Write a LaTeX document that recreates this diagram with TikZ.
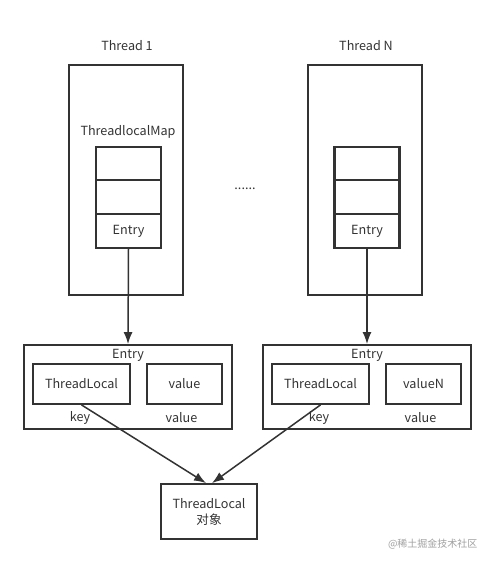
\documentclass[tikz,border=0pt]{standalone}
\usepackage{fontspec}
\setmainfont{Noto Sans CJK SC}
\usetikzlibrary{arrows.meta}
\definecolor{ink}{HTML}{333333}
\definecolor{mark}{HTML}{A0A0A0}

\begin{document}
\begin{tikzpicture}[x=1pt, y=-1pt, font=\fontsize{12.6}{14}\selectfont, text=ink,
  box/.style={draw=ink, line width=1.8pt, inner sep=0pt},
  cell/.style={box, line width=2.2pt, minimum width=65, minimum height=33.5},
  link/.style={draw=ink, line width=1.5pt, -{Latex[length=12pt, width=9pt]}}]
  \useasboundingbox (0,0) rectangle (495,564);
  % threads
  \foreach \t/\x/\lbl in {a/126/Thread 1, b/365/Thread N} {
    \node[box, minimum width=114, minimum height=230] (th\t) at (\x,180) {};
    \node (tl\t) at (\x+1,46) {\lbl};
  }
  \node (map) at (128,132) {ThreadlocalMap};
  % map cells
  \foreach \t/\x in {a/128.5, b/367} {
    \node[cell] (\t1) at (\x,163.5) {};
    \node[cell] (\t2) at (\x,197) {};
    \node[cell] (\t3) at (\x,231) {\raisebox{-1pt}{Entry}};
  }
  \node (dots) at (245,189) {......};
  % entries
  \foreach \t/\x/\v in {a/128/value, b/367/valueN} {
    \node[box, minimum width=208, minimum height=84] (en\t) at (\x,387) {};
    \node (et\t) at (\x,355) {Entry};
    \node[box, minimum width=97, minimum height=40] (k\t) at (\x-46.5,384) {\raisebox{-1pt}{ThreadLocal}};
    \node[box, minimum width=75, minimum height=40] (v\t) at (\x+56.5,384) {\raisebox{-1pt}{\v}};
    \node (kl\t) at (\x-48,418) {key};
    \node (vl\t) at (\x+53.5,418) {value};
    \draw[link] (\t3.south) -- (en\t.north);
  }
  \node[box, minimum width=96, minimum height=55, align=center,
    font=\fontsize{12.6}{16}\selectfont] (obj) at (209,511.5) {ThreadLocal\\对象};
  \draw[link] (ka.south) -- ([xshift=-3]obj.north);
  \draw[link] (kb.south) -- ([xshift=3]obj.north);
  \node[anchor=east, text=mark, font=\fontsize{10}{12}\selectfont] (wm) at (481,544) {@稀土掘金技术社区};
\end{tikzpicture}
\end{document}
